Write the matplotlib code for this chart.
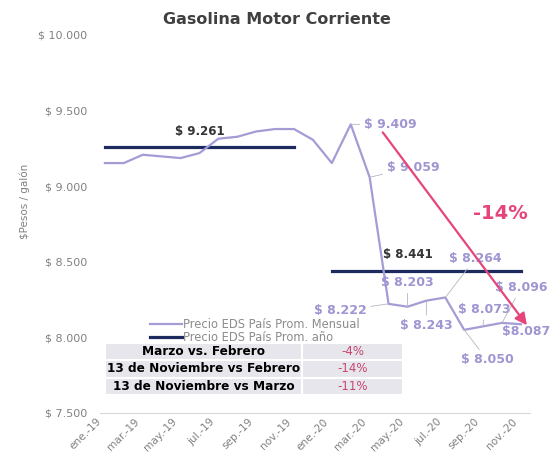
import numpy as np
import matplotlib
matplotlib.use('Agg')
import matplotlib.pyplot as plt
import matplotlib.transforms as mtransforms

# monthly prices, ene-19 .. nov-20
months = ['ene.-19', 'feb.-19', 'mar.-19', 'abr.-19', 'may.-19', 'jun.-19',
          'jul.-19', 'ago.-19', 'sep.-19', 'oct.-19', 'nov.-19', 'dic.-19',
          'ene.-20', 'feb.-20', 'mar.-20', 'abr.-20', 'may.-20', 'jun.-20',
          'jul.-20', 'ago.-20', 'sep.-20', 'oct.-20', 'nov.-20']
precio = [9153, 9153, 9208, 9197, 9186, 9219, 9314, 9327, 9362, 9378, 9378, 9307,
          9153, 9409, 9059, 8222, 8203, 8243, 8264, 8050, 8073, 8096, 8087]

prom_2019 = 9261
prom_2020 = 8441
rango_2019 = (0, 10)
rango_2020 = (12, 22)

# which points get a label, and where the label sits (offset in px, alignment)
etiquetas = {
    13: ('$ 9.409', (13, 0), 'left'),
    14: ('$ 9.059', (17, -10), 'left'),
    15: ('$ 8.222', (-22, 7), 'right'),
    16: ('$ 8.203', (0, -24), 'center'),
    17: ('$ 8.243', (0, 25), 'center'),
    18: ('$ 8.264', (30, -39), 'center'),
    19: ('$ 8.050', (23, 30), 'center'),
    20: ('$ 8.073', (1, -17), 'center'),
    21: ('$ 8.096', (19, -35), 'center'),
}

tabla_filas = ['Marzo vs. Febrero', '13 de Noviembre vs Febrero', '13 de Noviembre vs Marzo']
tabla_vals = ['-4%', '-14%', '-11%']

c_linea = '#A39CD5'
c_label = '#9E95D2'
c_prom = '#1C2A5E'
c_rojo = '#E6457C'
c_gris = '#808080'

fig = plt.figure(figsize=(5.53, 4.59), dpi=100)
ax = fig.add_axes([100/553, 46/459, 430/553, 378/459])

x = np.arange(len(precio))
ax.plot(x, precio, color=c_linea, lw=1.6, label='Precio EDS País Prom. Mensual', zorder=3)
ax.plot(rango_2019, [prom_2019]*2, color=c_prom, lw=2.3, label='Precio EDS País Prom. año', zorder=2)
ax.plot(rango_2020, [prom_2020]*2, color=c_prom, lw=2.3, zorder=2)

ax.set_xlim(-0.26, 22.48)
ax.set_ylim(7500, 10000)
ax.set_yticks([7500, 8000, 8500, 9000, 9500, 10000])
ax.set_yticklabels(['$ 7.500', '$ 8.000', '$ 8.500', '$ 9.000', '$ 9.500', '$ 10.000'])
ax.set_xticks(x[::2])
ax.set_xticklabels(months[::2], rotation=45, ha='right', va='center', rotation_mode='anchor')
ax.tick_params(length=0, colors=c_gris, labelsize=8)
ax.tick_params(axis='x', pad=5, labelsize=7.6)
ax.tick_params(axis='y', pad=9)
shift = mtransforms.ScaledTranslation(-5/100, 0, fig.dpi_scale_trans)
for lbl in ax.get_xticklabels():
    lbl.set_transform(lbl.get_transform() + shift)
for s in ['top', 'right', 'left']:
    ax.spines[s].set_visible(False)
ax.spines['bottom'].set_color('#D9D9D9')
fig.text(25/553, 1 - 201/459, '$Pesos / galón', rotation=90, ha='center', va='center',
         color=c_gris, fontsize=7.5)

fig.text(0.5, 0.958, 'Gasolina Motor Corriente', ha='center', va='center',
         fontsize=11.5, fontweight='bold', color='#404040')

px = 0.72  # points per pixel
for i, (txt, (dx, dy), ha) in etiquetas.items():
    ax.annotate(txt, xy=(x[i], precio[i]), xytext=(dx*px, -dy*px), textcoords='offset points',
                ha=ha, va='center', fontsize=9, fontweight='bold', color=c_label,
                arrowprops=dict(arrowstyle='-', color='#B5B5C0', lw=0.6, shrinkA=1, shrinkB=0))
ax.annotate('$8.087', xy=(x[22], precio[22]), xytext=(5*px, -7*px), textcoords='offset points',
            ha='center', va='center', fontsize=9, fontweight='bold', color=c_label)

ax.annotate('$ 9.261', xy=(5, prom_2019), xytext=(0, 15*px), textcoords='offset points',
            ha='center', va='center', fontsize=8.5, fontweight='bold', color='#333333')
ax.annotate('$ 8.441', xy=(16, prom_2020), xytext=(0, 16*px), textcoords='offset points',
            ha='center', va='center', fontsize=8.5, fontweight='bold', color='#333333')

# red trend arrow from the feb-20 peak to the last point
start = mtransforms.offset_copy(ax.transData, fig=fig, x=32*px, y=-8*px, units='points')
end = mtransforms.offset_copy(ax.transData, fig=fig, x=6*px, y=-1*px, units='points')
ax.annotate('', xy=(x[22], precio[22]), xycoords=end,
            xytext=(x[13], precio[13]), textcoords=start,
            arrowprops=dict(arrowstyle='-|>,head_length=0.7,head_width=0.35', color=c_rojo, lw=1.6,
                            shrinkA=0, shrinkB=0), zorder=5)
ax.text(0.93, 0.529, '-14%', transform=ax.transAxes, ha='center', va='center',
        fontsize=14, fontweight='bold', color=c_rojo)

leg = ax.legend(loc='upper left', bbox_to_anchor=(0.116, 0.252), frameon=False,
                fontsize=8.3, handlelength=2.8, handletextpad=0.05, labelspacing=0.05,
                borderaxespad=0, borderpad=0)
for t in leg.get_texts():
    t.set_color('#8C8C8C')

tab = ax.table(cellText=[[a, b] for a, b in zip(tabla_filas, tabla_vals)],
               colWidths=[0.66, 0.34], bbox=[0.012, 0.048, 0.693, 0.137], zorder=4)
tab.auto_set_font_size(False)
for (r, c), cell in tab.get_celld().items():
    cell.set_facecolor('#E6E6EC')
    cell.set_edgecolor('white')
    cell.set_linewidth(1.5)
    cell.get_text().set_ha('center')
    if c == 0:
        cell.get_text().set_fontweight('bold')
        cell.get_text().set_fontsize(8.7)
        cell.get_text().set_color('black')
    else:
        cell.get_text().set_fontsize(8.5)
        cell.get_text().set_color('#C8456E')

fig.savefig('out.png', dpi=100, facecolor='white')
